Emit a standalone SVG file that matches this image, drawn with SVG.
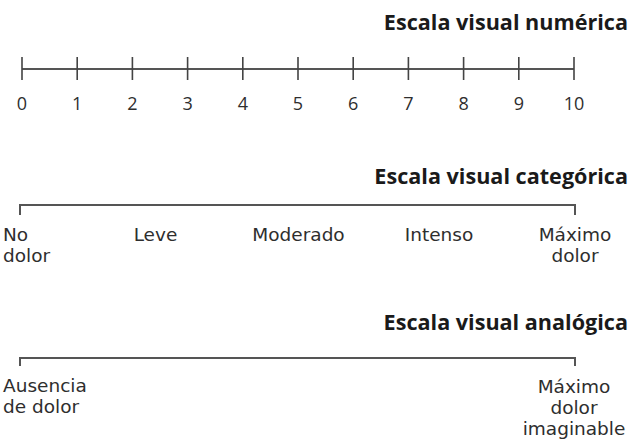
<svg xmlns="http://www.w3.org/2000/svg" width="631" height="441" viewBox="0 0 631 441">
<style>
.bg{fill:#fff}
.title{font-family:"Open Sans","Noto Sans",sans-serif;font-weight:700;font-size:21.6px;fill:#1a1a1a;text-anchor:end}
.lbl{font-family:"DejaVu Sans","Noto Sans",sans-serif;font-size:18.5px;fill:#2e2e2e}
.mid{text-anchor:middle}
.num{font-family:"Open Sans","Noto Sans",sans-serif;font-size:18px;fill:#2e2e2e;text-anchor:middle}
.ln{stroke:#555;stroke-width:2;fill:none}
.tk{stroke:#444;stroke-width:1.6;fill:none}
</style>
<rect class="bg" x="0" y="0" width="631" height="441"/>
<g id="scale-numeric">
<text class="title" x="628" y="30">Escala visual numérica</text>
<g id="numeric-connectors">
<line class="ln" x1="22" y1="69" x2="574" y2="69"/>
<path class="tk" d="M22 57V80M77.2 57V80M132.4 57V80M187.6 57V80M242.8 57V80M298 57V80M353.2 57V80M408.4 57V80M463.6 57V80M518.8 57V80M574 57V80"/>
</g>
<text class="num" x="22" y="110">0</text>
<text class="num" x="77.2" y="110">1</text>
<text class="num" x="132.4" y="110">2</text>
<text class="num" x="187.6" y="110">3</text>
<text class="num" x="242.8" y="110">4</text>
<text class="num" x="298" y="110">5</text>
<text class="num" x="353.2" y="110">6</text>
<text class="num" x="408.4" y="110">7</text>
<text class="num" x="463.6" y="110">8</text>
<text class="num" x="518.8" y="110">9</text>
<text class="num" x="574" y="110">10</text>
</g>
<g id="scale-categorical">
<text class="title" x="628" y="184">Escala visual categórica</text>
<path class="ln" d="M20 215V205H575V215"/>
<text class="lbl" x="3" y="241">No</text>
<text class="lbl" x="3" y="262">dolor</text>
<text class="lbl mid" x="155.5" y="241">Leve</text>
<text class="lbl mid" x="298.5" y="241">Moderado</text>
<text class="lbl mid" x="439" y="241">Intenso</text>
<text class="lbl mid" x="575" y="241">Máximo</text>
<text class="lbl mid" x="575" y="262">dolor</text>
</g>
<g id="scale-analog">
<text class="title" x="628" y="330">Escala visual analógica</text>
<path class="ln" d="M20 366V358H575V366"/>
<text class="lbl" x="3" y="392">Ausencia</text>
<text class="lbl" x="3" y="413">de dolor</text>
<text class="lbl mid" x="574" y="393">Máximo</text>
<text class="lbl mid" x="574" y="414">dolor</text>
<text class="lbl mid" x="574" y="435">imaginable</text>
</g>
</svg>
